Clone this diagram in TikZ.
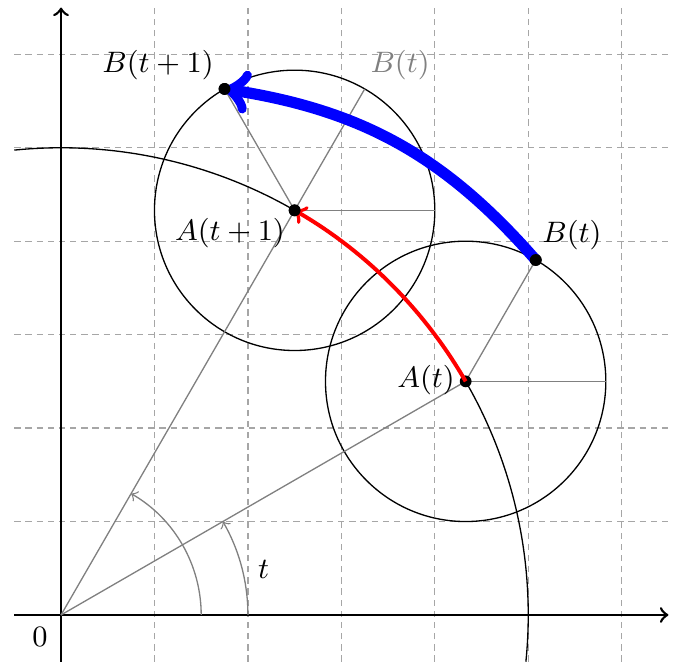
\documentclass[tikz,border=0pt]{standalone}
\usetikzlibrary{calc}
\begin{document}
\begin{tikzpicture}[
  lbl/.style={font=\fontsize{9}{11}\selectfont, inner sep=0pt},
  gridline/.style={gray!70, dash pattern=on 1.9pt off 1.5pt, line width=0.4pt},
  radial/.style={gray, line width=0.4pt},
  axisline/.style={black, thick, ->},
  circ/.style={black, line width=0.4pt},
  dotpt/.style={fill=black},
]
\useasboundingbox (-0.653,-0.503) rectangle (6.613,6.581);
% grid
\draw[gridline] (-0.5,-0.5) grid (6.5,6.5);
% key points
\coordinate (O) at (0,0);
\coordinate (xs) at (-0.5,0);
\coordinate (xe) at (6.5,0);
\coordinate (ys) at (0,-0.5);
\coordinate (ye) at (0,6.5);
\coordinate (At) at (30:5);
\coordinate (Bt) at ($(At)+(60:1.5)$);
\coordinate (At1) at (60:5);
\coordinate (Bt1) at ($(At1)+(120:1.5)$);
\coordinate (Gt) at ($(At1)+(60:1.5)$);
\coordinate (Ah) at ($(At)+(1.5,0)$);
\coordinate (A1h) at ($(At1)+(1.5,0)$);
\coordinate (r2) at (2,0);
\coordinate (r15) at (1.5,0);
\coordinate (arcS) at (-5.74:5);
% axes
\draw[axisline] (xs) -- (xe);
\draw[axisline] (ys) -- (ye);
% circles
\draw[circ] (At) circle[radius=1.5];
\draw[circ] (At1) circle[radius=1.5];
% gray radial lines
\draw[radial] (O) -- (At);
\draw[radial] (O) -- (At1);
\draw[radial] (At) -- (Bt);
\draw[radial] (At) -- (Ah);
\draw[radial] (At1) -- (A1h);
\draw[radial] (At1) -- (Bt1);
\draw[radial] (At1) -- (Gt);
% angle arcs
\draw[radial,->] (r2) arc[start angle=0,end angle=30,radius=2];
\draw[radial,->] (r15) arc[start angle=0,end angle=60,radius=1.5];
% big circle arc
\draw[circ] (arcS) arc[start angle=-5.74,end angle=30,radius=5];
\draw[circ] (At1) arc[start angle=60,end angle=95.74,radius=5];
% dots
\foreach \p in {At,Bt,At1,Bt1} \fill[dotpt] (\p) circle[radius=1.8pt];
% red and blue arrows
\draw[red, line width=1.2pt, ->] (At) arc[start angle=30,end angle=60,radius=5];
\draw[blue, line width=3.4pt, ->] (Bt) to[bend right=20] (Bt1);
% dots on top
\foreach \p in {Bt,At1,Bt1} \fill[dotpt] (\p) circle[radius=1.8pt];
% labels
\node[lbl] (lAt) at (3.906,2.515) {$A(t)$};
\node[lbl] (lBt) at (5.468,4.066) {$B(t)$};
\node[lbl] (lAt1) at (1.808,4.088) {$A(t+1)$};
\node[lbl] (lBt1) at (1.038,5.886) {$B(t+1)$};
\node[lbl, text=gray] (lGt) at (3.628,5.886) {$B(t)$};
\node[lbl] (l0) at (-0.225,-0.235) {$0$};
\node[lbl] (lt) at (2.167,0.492) {$t$};
\end{tikzpicture}
\end{document}
